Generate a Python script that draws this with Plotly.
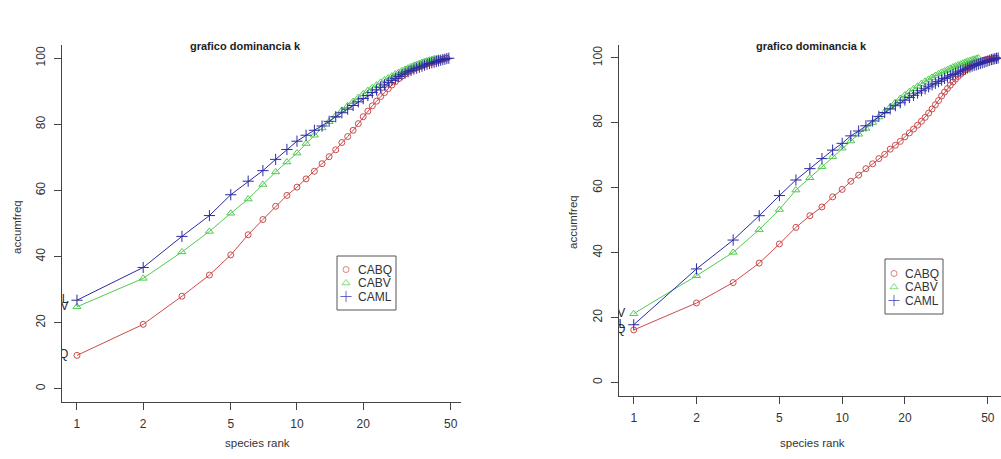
import plotly.graph_objects as go

W, H = 1001, 459

# Accumulated frequency (%) by species rank, first sample set
k1_cabq = [10.1, 19.5, 28.0, 34.4, 40.5, 46.6, 51.2, 55.2, 58.5, 61.0,
           63.5, 65.8, 68.1, 70.2, 72.3, 74.5, 76.3, 78.2, 80.2, 82.3,
           84.0, 85.6, 87.0, 88.4, 89.6, 90.8, 91.9, 92.9, 93.8, 94.6,
           95.2, 95.8, 96.3, 96.7, 97.1, 97.4, 97.7, 98.0, 98.3, 98.5,
           98.7, 98.9, 99.1, 99.3, 99.5, 99.7, 99.9, 100.0]
k1_cabv = [24.8, 33.4, 41.4, 47.6, 53.1, 57.4, 61.8, 65.6, 68.6, 71.3,
           74.2, 76.7, 78.9, 80.8, 82.6, 84.2, 85.6, 86.9, 88.1, 89.2,
           90.2, 91.1, 91.9, 92.7, 93.4, 94.0, 94.6, 95.2, 95.7, 96.2,
           96.6, 97.0, 97.4, 97.8, 98.1, 98.4, 98.7, 99.0, 99.2, 99.4,
           99.6, 99.8, 99.9, 100.0]
k1_caml = [26.8, 36.7, 46.1, 52.4, 58.7, 62.8, 66.0, 69.4, 72.4, 74.9,
           76.7, 78.2, 79.5, 80.9, 82.3, 83.5, 84.6, 85.7, 86.8, 87.8,
           88.7, 89.6, 90.4, 91.2, 91.9, 92.6, 93.3, 93.9, 94.5, 95.0,
           95.5, 95.9, 96.3, 96.7, 97.0, 97.3, 97.6, 97.9, 98.2, 98.4,
           98.6, 98.8, 99.0, 99.2, 99.4, 99.6, 99.7, 99.9, 100.0]

# Accumulated frequency (%) by species rank, second sample set
k2_cabq = [16.2, 24.5, 30.8, 36.8, 42.7, 47.8, 51.4, 54.1, 57.2, 59.5,
           62.0, 63.9, 65.9, 67.4, 69.0, 70.3, 71.9, 73.1, 74.3, 75.7,
           76.9, 78.1, 79.3, 80.5, 81.7, 83.0, 84.3, 85.6, 86.9, 88.3,
           89.5, 90.6, 91.6, 92.6, 93.5, 94.3, 95.0, 95.7, 96.3, 96.8,
           97.2, 97.6, 98.0, 98.4, 98.7, 98.9, 99.1, 99.3, 99.4, 99.5,
           99.6, 99.7, 99.8, 99.9, 100.0]
k2_cabv = [21.2, 32.9, 40.1, 47.1, 53.3, 59.3, 63.1, 66.5, 69.6, 72.2,
           74.4, 76.5, 78.3, 80.1, 81.8, 83.4, 84.9, 86.3, 87.5, 88.6,
           89.6, 90.5, 91.3, 92.1, 92.8, 93.4, 94.0, 94.6, 95.1, 95.6,
           96.0, 96.4, 96.8, 97.2, 97.5, 97.8, 98.1, 98.4, 98.7, 99.0,
           99.2, 99.4, 99.6, 99.8, 100.0]
k2_caml = [17.8, 35.0, 43.9, 51.4, 57.6, 62.4, 65.9, 69.0, 71.6, 73.7,
           76.0, 77.5, 79.1, 80.6, 82.0, 83.2, 84.3, 85.3, 86.2, 87.0,
           87.8, 88.5, 89.2, 89.9, 90.5, 91.1, 91.7, 92.2, 92.7, 93.2,
           93.7, 94.1, 94.5, 94.9, 95.3, 95.7, 96.0, 96.3, 96.6, 96.9,
           97.2, 97.5, 97.7, 97.9, 98.1, 98.3, 98.5, 98.7, 98.9, 99.1,
           99.3, 99.5, 99.6, 99.8, 99.9, 100.0]

series_names = ["CABQ", "CABV", "CAML"]
panel_data = [[k1_cabq, k1_cabv, k1_caml], [k2_cabq, k2_cabv, k2_caml]]
x_ticks = [1, 2, 5, 10, 20, 50]
y_ticks = [0, 20, 40, 60, 80, 100]
title_text = "grafico dominancia k"
xlab_text = "species rank"
ylab_text = "accumfreq"

COLORS = ["#CC4B4B", "#4FCB4F", "#2B2BA6"]
SYMBOLS = ["circle-open", "triangle-up-open", "cross-thin-open"]
SIZES = [6, 7, 8]
FONT = "Liberation Sans, Arial, sans-serif"
INK = "#2a2a2a"


def px(x):
    return x / W


def py(y):
    return 1 - y / H


# panel geometry (pixels): plot-area edges and log10 x-range
panels = [
    dict(left=62, right=461, top=45, bottom=402, xr=[-0.068, 1.7455],
         title_x=245, xlab_x=257, ylab_x=17, ylab_y=227,
         legend=dict(x0=337, x1=396, y0=256, y1=310, sym_x=346, txt_x=356,
                     rows=[269.5, 283, 296.5])),
    dict(left=619, right=1001, top=45, bottom=395.5, xr=[-0.0706, 1.762],
         title_x=811, xlab_x=812, ylab_x=573, ylab_y=222,
         legend=dict(x0=885, x1=943, y0=259, y1=314, sym_x=894, txt_x=903,
                     rows=[273.5, 287, 300.5])),
]

fig = go.Figure()
annotations = []
shapes = []

for p_i, (pan, data) in enumerate(zip(panels, panel_data)):
    sfx = "" if p_i == 0 else "2"
    xa, ya = "x" + sfx, "y" + sfx
    for name, vals, col, sym, sz in zip(series_names, data, COLORS, SYMBOLS, SIZES):
        ranks = list(range(1, len(vals) + 1))
        fig.add_trace(go.Scatter(
            x=ranks, y=vals, mode="lines+markers", name=name,
            xaxis=xa, yaxis=ya, showlegend=False,
            line=dict(color=col, width=1),
            marker=dict(symbol=sym, size=sz, color=col, line=dict(color=col, width=1)),
            cliponaxis=False,
        ))
    # tail letter of each series name, left of its first rank
    fig.add_trace(go.Scatter(
        x=[1] * len(series_names), y=[d[0] for d in data],
        text=[n[-1] for n in series_names], mode="markers+text",
        textposition="middle left",
        marker=dict(size=12, color="rgba(0,0,0,0)"),
        textfont=dict(family=FONT, size=12, color=INK),
        xaxis=xa, yaxis=ya, showlegend=False, cliponaxis=True,
        hoverinfo="skip",
    ))

    axis_common = dict(showgrid=False, zeroline=False, showline=True,
                       linecolor="#444", linewidth=1, ticks="outside",
                       ticklen=7, tickwidth=1, tickcolor="#444",
                       tickfont=dict(family=FONT, size=12, color="#333"))
    fig.update_layout(**{
        "xaxis" + sfx: dict(axis_common, type="log", range=pan["xr"],
                            domain=[px(pan["left"]), min(1.0, px(pan["right"]))],
                            anchor=ya, tickvals=x_ticks,
                            ticktext=[str(t) for t in x_ticks],
                            ticklabelstandoff=4),
        "yaxis" + sfx: dict(axis_common, range=[-4, 104],
                            domain=[py(pan["bottom"]), py(pan["top"])],
                            anchor=xa, tickvals=y_ticks, tickangle=-90,
                            ticklabelstandoff=4),
    })

    annotations.append(dict(text="<b>" + title_text + "</b>", x=px(pan["title_x"]),
                            y=py(46), xref="paper", yref="paper",
                            showarrow=False, xanchor="center", yanchor="middle",
                            font=dict(family=FONT, size=11, color="#222")))
    annotations.append(dict(text=xlab_text, x=px(pan["xlab_x"]), y=py(443),
                            xref="paper", yref="paper", showarrow=False,
                            xanchor="center", yanchor="middle",
                            font=dict(family=FONT, size=11.5, color="#333")))
    annotations.append(dict(text=ylab_text, x=px(pan["ylab_x"]), y=py(pan["ylab_y"]),
                            xref="paper", yref="paper", showarrow=False, textangle=-90,
                            xanchor="center", yanchor="middle",
                            font=dict(family=FONT, size=11.5, color="#333")))

    # legend box with a key symbol and label per series
    lg = pan["legend"]
    shapes.append(dict(type="rect", xref="paper", yref="paper",
                       x0=px(lg["x0"]), x1=px(lg["x1"]), y0=py(lg["y1"]), y1=py(lg["y0"]),
                       line=dict(color="#555", width=1), fillcolor="white", layer="below"))
    fig.add_trace(go.Scatter(
        x=[lg["sym_x"]] * 3, y=lg["rows"], mode="markers", xaxis="x3", yaxis="y3",
        marker=dict(symbol=SYMBOLS, size=SIZES, color=COLORS,
                    line=dict(color=COLORS, width=1)),
        showlegend=False, hoverinfo="skip", cliponaxis=False,
    ))
    for name, row in zip(series_names, lg["rows"]):
        annotations.append(dict(text=name, x=px(lg["txt_x"]), y=py(row),
                                xref="paper", yref="paper", showarrow=False,
                                xanchor="left", yanchor="middle",
                                font=dict(family=FONT, size=12, color="#333")))

fig.update_layout(
    width=W, height=H, margin=dict(l=0, r=0, t=0, b=0),
    paper_bgcolor="white", plot_bgcolor="rgba(0,0,0,0)",
    showlegend=False,
    xaxis3=dict(domain=[0, 1], range=[0, W], visible=False, fixedrange=True, anchor="y3"),
    yaxis3=dict(domain=[0, 1], range=[H, 0], visible=False, fixedrange=True, anchor="x3"),
    annotations=annotations, shapes=shapes,
)

fig.write_html("out.html")
